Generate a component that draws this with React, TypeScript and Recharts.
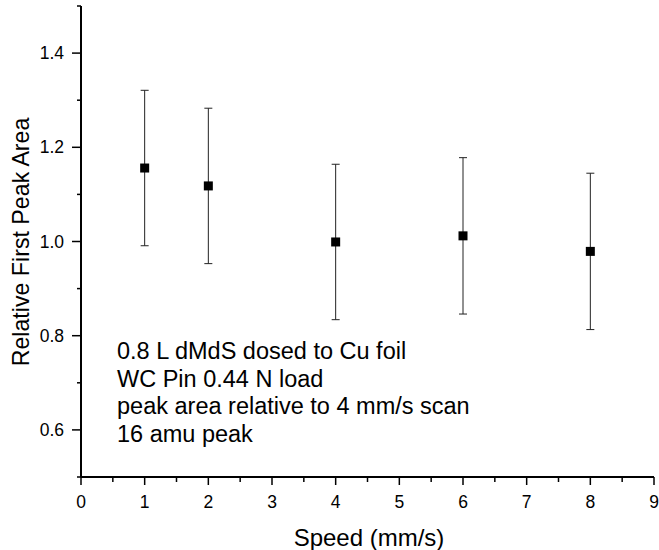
import { ScatterChart, Scatter, XAxis, YAxis, ErrorBar, Customized } from "recharts";

const speeds = [1, 2, 4, 6, 8];
const peakArea = [1.156, 1.118, 0.999, 1.012, 0.979];
const peakErr = [0.165, 0.165, 0.165, 0.166, 0.166];

const xMajorTicks = [0, 1, 2, 3, 4, 5, 6, 7, 8, 9];
const xMinorTicks = [0.5, 1.5, 2.5, 3.5, 4.5, 5.5, 6.5, 7.5, 8.5];
const yMajorTicks = [0.6, 0.8, 1.0, 1.2, 1.4];
const yMinorTicks = [0.5, 0.7, 0.9, 1.1, 1.3, 1.5];

const notes = [
  "0.8 L dMdS dosed to Cu foil",
  "WC Pin 0.44 N load",
  "peak area relative to 4 mm/s scan",
  "16 amu peak",
];

const FONT = "'Liberation Sans', Arial, sans-serif";

const data = speeds.map((s, i) => ({ speed: s, area: peakArea[i], err: peakErr[i] }));

const isMajor = (list: number[], v: number) => list.some(t => Math.abs(t - v) < 1e-6);

function XTick({ x, y, payload }: any) {
  const major = isMajor(xMajorTicks, payload.value);
  return (
    <g>
      <line x1={x} y1={y} x2={x} y2={y + (major ? 8 : 5)} stroke="#000" strokeWidth={1.5} />
      {major && (
        <text x={x} y={y + 25} textAnchor="middle" dominantBaseline="central" fontSize={17.5} fontFamily={FONT} fill="#000">
          {payload.value}
        </text>
      )}
    </g>
  );
}

function YTick({ x, y, payload }: any) {
  const major = isMajor(yMajorTicks, payload.value);
  return (
    <g>
      <line x1={x} y1={y} x2={x - (major ? 9 : 4)} y2={y} stroke="#000" strokeWidth={1.5} />
      {major && (
        <text x={x - 17} y={y} textAnchor="end" dominantBaseline="central" fontSize={17.5} fontFamily={FONT} fill="#000">
          {payload.value.toFixed(1)}
        </text>
      )}
    </g>
  );
}

function SquareDot({ cx, cy }: any) {
  return <rect x={cx - 4.5} y={cy - 4.5} width={9} height={9} fill="#000" />;
}

function Annotations() {
  return (
    <g fontFamily={FONT} fill="#000">
      <text x={21} y={242} textAnchor="middle" dominantBaseline="central" fontSize={23.2} transform="rotate(-90 21 242)">
        Relative First Peak Area
      </text>
      <text x={369} y={537} textAnchor="middle" dominantBaseline="central" fontSize={24}>
        Speed (mm/s)
      </text>
      {notes.map((n, i) => (
        <text key={n} x={117} y={351 + i * 27.5} dominantBaseline="central" fontSize={23.5}>
          {n}
        </text>
      ))}
    </g>
  );
}

export default function App() {
  return (
    <div style={{ position: "absolute", left: 0, top: 0, width: 659, height: 550, background: "#fff" }}>
      <ScatterChart width={659} height={550} margin={{ top: 6, right: 5, bottom: 0, left: 0 }}>
        <XAxis
          type="number"
          dataKey="speed"
          domain={[0, 9]}
          ticks={[...xMajorTicks, ...xMinorTicks].sort((a, b) => a - b)}
          interval={0}
          height={73}
          tickSize={0}
          tickMargin={0}
          tickLine={false}
          tick={<XTick />}
          axisLine={{ stroke: "#000", strokeWidth: 2 }}
          allowDataOverflow
        />
        <YAxis
          type="number"
          dataKey="area"
          domain={[0.5, 1.5]}
          ticks={[...yMajorTicks, ...yMinorTicks].sort((a, b) => a - b)}
          interval={0}
          width={81}
          tickSize={0}
          tickMargin={0}
          tickLine={false}
          tick={<YTick />}
          axisLine={{ stroke: "#000", strokeWidth: 2 }}
          allowDataOverflow
        />
        <Scatter data={data} shape={<SquareDot />} isAnimationActive={false}>
          <ErrorBar dataKey="err" direction="y" width={4} stroke="#222" strokeWidth={1} isAnimationActive={false} />
        </Scatter>
        <Customized component={<Annotations />} />
      </ScatterChart>
    </div>
  );
}
